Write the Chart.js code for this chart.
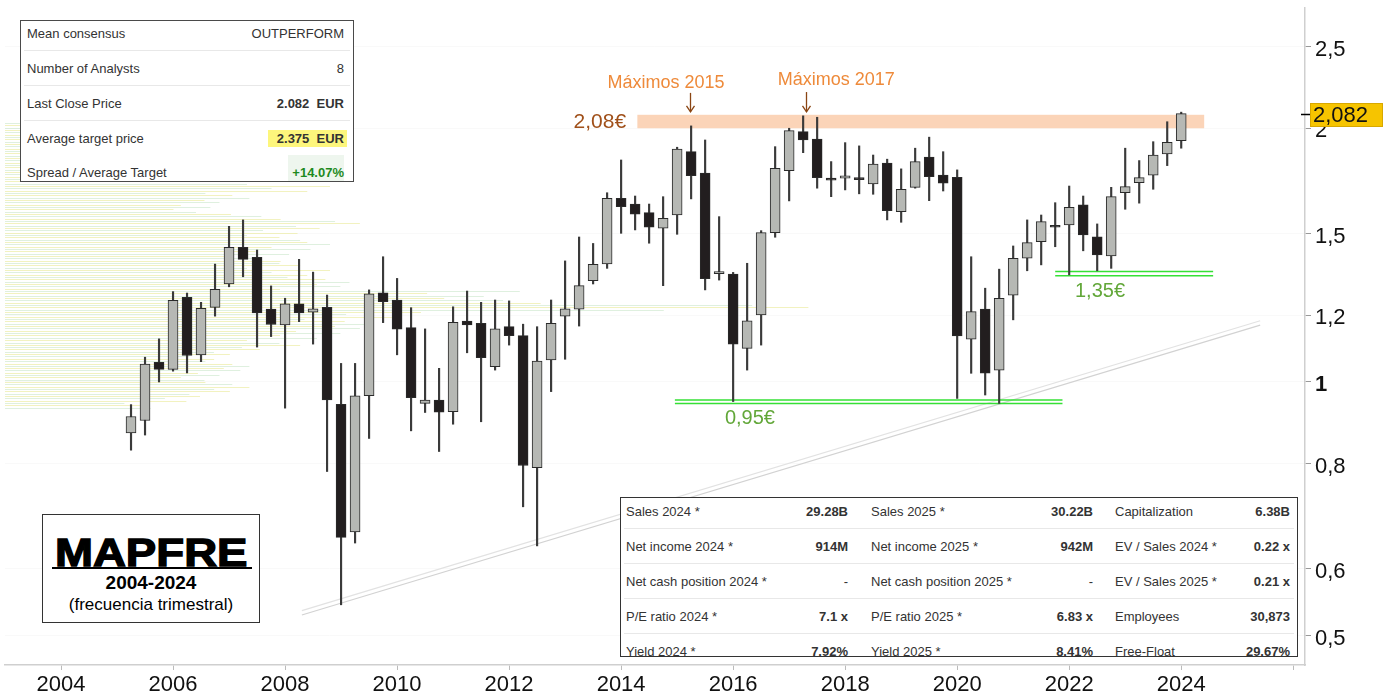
<!DOCTYPE html>
<html>
<head>
  <meta charset="utf-8">
  <title>MAPFRE 2004-2024 (frecuencia trimestral)</title>
  <script src="https://cdn.jsdelivr.net/npm/chart.js"></script>
  <style>
    body { margin: 0; background: #fff; font-family: "Liberation Sans", Arial, sans-serif; }
    .wrap { position: relative; width: 1389px; height: 696px; }
    .box { position: absolute; background: #fff; overflow: hidden; color: #333; font-size: 13px; }
    .row { position: absolute; left: 0; right: 0; height: 35px; line-height: 35px; white-space: nowrap; }
    .row span { position: absolute; }
    .sep::after { content: ""; position: absolute; left: 3px; right: 3px; bottom: 0; border-bottom: 1px solid #e8e8e8; }
    .b { font-weight: bold; }
    /* consensus table */
    #consensus { left: 20px; top: 20px; width: 332px; height: 160px; border: 1px solid #4a4a4a; }
    #consensus .l { left: 6px; }
    #consensus .v { right: 9px; }
    #consensus .hl { background: #fdf67c; line-height: 17px; top: 9px; padding: 0 3px 0 9px; right: 6px; }
    #consensus .pos { color: #1e8a1e; background: #eef6ee; padding: 0 0 0 4px; }
    /* financials table */
    #fin { left: 620px; top: 497px; width: 676px; height: 158px; border: 1px solid #333; }
    /* title box */
    #title { left: 42px; top: 514px; width: 216px; height: 107px; border: 1px solid #333; color: #000; }
    #title div { position: absolute; left: 0; right: 0; text-align: center; white-space: nowrap; }
  </style>
</head>
<body>
<div class="wrap">
  <canvas id="c"></canvas>

  <div class="box" id="consensus">
    <div class="row sep" style="top:-5px"><span class="l">Mean consensus</span><span class="v">OUTPERFORM</span></div>
    <div class="row sep" style="top:30px"><span class="l">Number of Analysts</span><span class="v">8</span></div>
    <div class="row sep" style="top:65px"><span class="l">Last Close Price</span><span class="v b">2.082&nbsp; EUR</span></div>
    <div class="row" style="top:100px"><span class="l">Average target price</span><span class="v b hl">2.375&nbsp; EUR</span></div>
    <div class="row" style="top:134px"><span class="l">Spread / Average Target</span><span class="v b pos">+14.07%</span></div>
  </div>

  <div class="box" id="fin">
    <div class="row sep" style="top:-4px">
      <span style="left:5px">Sales 2024 *</span><span class="b" style="right:449px">29.28B</span>
      <span style="left:250px">Sales 2025 *</span><span class="b" style="right:204px">30.22B</span>
      <span style="left:494px">Capitalization</span><span class="b" style="right:7px">6.38B</span>
    </div>
    <div class="row sep" style="top:31px">
      <span style="left:5px">Net income 2024 *</span><span class="b" style="right:449px">914M</span>
      <span style="left:250px">Net income 2025 *</span><span class="b" style="right:204px">942M</span>
      <span style="left:494px">EV / Sales 2024 *</span><span class="b" style="right:7px">0.22 x</span>
    </div>
    <div class="row sep" style="top:66px">
      <span style="left:5px">Net cash position 2024 *</span><span style="right:449px">-</span>
      <span style="left:250px">Net cash position 2025 *</span><span style="right:204px">-</span>
      <span style="left:494px">EV / Sales 2025 *</span><span class="b" style="right:7px">0.21 x</span>
    </div>
    <div class="row sep" style="top:101px">
      <span style="left:5px">P/E ratio 2024 *</span><span class="b" style="right:449px">7.1 x</span>
      <span style="left:250px">P/E ratio 2025 *</span><span class="b" style="right:204px">6.83 x</span>
      <span style="left:494px">Employees</span><span class="b" style="right:7px">30,873</span>
    </div>
    <div class="row" style="top:136px">
      <span style="left:5px">Yield 2024 *</span><span class="b" style="right:449px">7.92%</span>
      <span style="left:250px">Yield 2025 *</span><span class="b" style="right:204px">8.41%</span>
      <span style="left:494px">Free-Float</span><span class="b" style="right:7px">29.67%</span>
    </div>
  </div>

  <div class="box" id="title">
    <div style="top:19px;font-size:38px;line-height:38px;font-weight:bold;"><span style="display:inline-block;transform:scaleX(1.2);-webkit-text-stroke:1.3px #000;">MAPFRE</span></div>
    <div style="top:52px;left:9px;right:7px;height:2px;background:#000;"></div>
    <div style="top:58px;font-size:19px;line-height:19px;font-weight:bold;">2004-2024</div>
    <div style="top:81px;font-size:17px;line-height:17px;">(frecuencia trimestral)</div>
  </div>
</div>

<script>
  // quarterly candles, first one is 2005 Q2
  const firstYear = 2005, firstQuarter = 2;
  const opens  = [0.87,0.90,1.055,1.035,1.26,1.077,1.226,1.307,1.445,1.406,
                  1.22,1.169,1.238,1.21,1.226,0.941,0.664,0.963,1.276,1.251,
                  1.16,0.943,0.952,0.922,1.181,1.174,1.043,1.163,1.135,0.791,
                  1.062,1.197,1.22,1.319,1.381,1.652,1.626,1.588,1.522,1.578,
                  1.876,1.769,1.344,1.343,1.096,1.201,1.504,1.781,1.982,1.942,
                  1.745,1.745,1.748,1.718,1.818,1.593,1.702,1.848,1.76,1.749,
                  1.124,1.22,1.033,1.268,1.402,1.467,1.532,1.536,1.622,1.487,
                  1.411,1.677,1.724,1.759,1.864,1.934];
  const highs  = [0.94,1.07,1.125,1.28,1.275,1.243,1.38,1.53,1.557,1.434,
                  1.30,1.257,1.398,1.35,1.268,1.052,1.052,1.286,1.408,1.327,
                  1.225,1.156,1.038,1.228,1.282,1.243,1.251,1.248,1.171,1.163,
                  1.251,1.392,1.486,1.46,1.677,1.834,1.662,1.626,1.659,1.899,
                  2.013,1.937,1.571,1.349,1.383,1.512,1.902,2.0,2.069,2.061,
                  1.826,1.923,1.906,1.859,1.838,1.79,1.894,1.952,1.876,1.785,
                  1.408,1.292,1.361,1.45,1.557,1.578,1.632,1.708,1.662,1.54,
                  1.702,1.894,1.831,1.928,2.036,2.09];
  const lows   = [0.83,0.865,1.0,1.03,1.025,1.057,1.197,1.297,1.333,1.10,
                  1.132,0.931,1.179,1.109,0.783,0.544,0.644,0.857,1.176,1.077,
                  0.875,0.92,0.827,0.891,1.083,0.897,1.033,1.106,0.711,0.639,
                  0.974,1.064,1.165,1.307,1.364,1.501,1.515,1.461,1.301,1.497,
                  1.649,1.286,1.321,0.948,1.033,1.106,1.485,1.64,1.871,1.698,
                  1.659,1.69,1.672,1.67,1.557,1.547,1.698,1.641,1.685,0.956,
                  1.024,0.965,0.943,1.185,1.355,1.377,1.447,1.34,1.431,1.355,
                  1.364,1.603,1.63,1.693,1.806,1.894];
  const closes = [0.91,1.05,1.035,1.25,1.075,1.223,1.288,1.445,1.398,1.208,
                  1.17,1.238,1.208,1.221,0.952,0.654,0.963,1.272,1.245,1.155,
                  0.958,0.952,0.921,1.177,1.169,1.069,1.156,1.135,0.796,1.059,
                  1.174,1.221,1.301,1.379,1.652,1.614,1.582,1.526,1.564,1.889,
                  1.757,1.326,1.352,1.109,1.182,1.504,1.793,1.987,1.937,1.748,
                  1.735,1.756,1.738,1.813,1.597,1.693,1.826,1.752,1.721,1.134,
                  1.212,1.024,1.257,1.402,1.463,1.55,1.526,1.612,1.494,1.415,
                  1.659,1.705,1.748,1.859,1.925,2.082];
  const lastClose = 2.082;

  // axes
  const yTicks = [0.5, 0.6, 0.8, 1, 1.2, 1.5, 2, 2.5];
  const xTickYears = [2004, 2006, 2008, 2010, 2012, 2014, 2016, 2018, 2020, 2022, 2024, 2026];

  // volume-by-price profile on the left (price level, relative volume 0-100)
  const profilePrices = [2.013,1.974,1.937,1.900,1.864,1.829,1.794,1.760,1.727,1.694,
                         1.662,1.631,1.600,1.570,1.540,1.511,1.482,1.454,1.426,1.399,
                         1.373,1.347,1.321,1.296,1.272,1.248,1.224,1.201,1.178,1.156,
                         1.134,1.112,1.091,1.071,1.050,1.031,1.011,0.992,0.973,0.955,0.937];
  const profileVolume = [11.2,13.5,15.0,16.5,15.0,18.1,19.6,21.2,22.7,25.0,
                         18.8,16.5,15.8,21.2,27.3,24.2,22.7,25.0,23.5,21.2,
                         22.7,25.0,26.5,25.8,39.6,41.2,61.8,32.0,28.1,27.3,
                         25.8,22.7,19.6,17.3,18.8,18.1,16.5,18.8,17.3,15.0,11.2];

  // resistance band (máximos 2015/2017) and supports
  const resistBand = { from: 2014.29, to: 2024.41, low: 2.0, high: 2.075 };
  const supports = [
    { from: 2014.96, to: 2021.88, prices: [0.952, 0.943] },
    { from: 2021.75, to: 2024.57, prices: [1.352, 1.337] }
  ];
  const trendLine = { x0: 2008.30, p0: 0.529, x1: 2025.41, p1: 1.168 };

  // annotations
  const arrows = [
    { year: 2015.23, from: 2.203, to: 2.092 },
    { year: 2017.30, from: 2.208, to: 2.092 }
  ];
  const labels = [
    { text: 'Máximos 2015', year: 2014.80, price: 2.264, color: '#ee8a3a', size: 18, align: 'center' },
    { text: 'Máximos 2017', year: 2017.84, price: 2.282, color: '#ee8a3a', size: 18, align: 'center' },
    { text: '2,08€', year: 2014.09, price: 2.034, color: '#a0501a', size: 21, align: 'right' },
    { text: '0,95€', year: 2016.30, price: 0.906, color: '#62a739', size: 20, align: 'center' },
    { text: '1,35€', year: 2022.55, price: 1.279, color: '#62a739', size: 20, align: 'center' }
  ];

  const quarterX = opens.map((_, i) => firstYear + (firstQuarter - 1 + i) / 4);
  const bodyColors = opens.map((o, i) => closes[i] >= o ? '#b6b8b4' : '#221e1f');

  const overlay = {
    id: 'overlay',
    beforeDatasetsDraw(chart) {
      const { ctx, chartArea: a, scales: { x, y, xv } } = chart;
      ctx.save();
      ctx.beginPath();
      ctx.rect(a.left, a.top, a.width, a.height);
      ctx.clip();

      // volume profile: each level drawn as thin stripes
      const stripeLen = [1, 0.82, 0.93];
      profilePrices.forEach((p, i) => {
        const py = y.getPixelForValue(p);
        const x0 = xv.getPixelForValue(0);
        const x1 = xv.getPixelForValue(profileVolume[i]);
        for (let k = 0; k < 3; k++) {
          const yy = Math.round(py - 3 + k * 2.4) + 0.5;
          ctx.strokeStyle = (i + k) % 2 ? 'rgba(232,232,140,0.55)' : 'rgba(185,222,185,0.45)';
          ctx.lineWidth = 1;
          ctx.beginPath();
          ctx.moveTo(x0, yy);
          ctx.lineTo(x0 + (x1 - x0) * stripeLen[(i + k) % 3], yy);
          ctx.stroke();
        }
      });

      // trend line (double)
      [1, 1.012].forEach((f, j) => {
        ctx.strokeStyle = j ? '#e2e2e2' : '#d2d2d2';
        ctx.lineWidth = 1.2;
        ctx.beginPath();
        ctx.moveTo(x.getPixelForValue(trendLine.x0), y.getPixelForValue(trendLine.p0 * f));
        ctx.lineTo(x.getPixelForValue(trendLine.x1), y.getPixelForValue(trendLine.p1 * f));
        ctx.stroke();
      });

      // resistance band
      ctx.fillStyle = '#fbd4b8';
      const bx0 = x.getPixelForValue(resistBand.from), bx1 = x.getPixelForValue(resistBand.to);
      const by0 = y.getPixelForValue(resistBand.high), by1 = y.getPixelForValue(resistBand.low);
      ctx.fillRect(bx0, by0, bx1 - bx0, by1 - by0);

      // supports
      ctx.strokeStyle = '#35e035';
      ctx.lineWidth = 1.5;
      supports.forEach(s => {
        s.prices.forEach(p => {
          const py = y.getPixelForValue(p);
          ctx.beginPath();
          ctx.moveTo(x.getPixelForValue(s.from), py);
          ctx.lineTo(x.getPixelForValue(s.to), py);
          ctx.stroke();
        });
      });
      ctx.restore();
    },
    afterDatasetsDraw(chart) {
      const { ctx, scales: { x, y } } = chart;
      ctx.save();
      // arrows
      ctx.strokeStyle = '#8a4513';
      ctx.lineWidth = 1.3;
      arrows.forEach(ar => {
        const px = Math.round(x.getPixelForValue(ar.year)) + 0.5;
        const y0 = y.getPixelForValue(ar.from), y1 = y.getPixelForValue(ar.to);
        ctx.beginPath();
        ctx.moveTo(px, y0);
        ctx.lineTo(px, y1);
        ctx.stroke();
        ctx.beginPath();
        ctx.moveTo(px - 4, y1 - 6);
        ctx.lineTo(px, y1);
        ctx.lineTo(px + 4, y1 - 6);
        ctx.stroke();
      });
      // labels
      ctx.textBaseline = 'middle';
      labels.forEach(l => {
        ctx.font = l.size + 'px "Liberation Sans", Arial, sans-serif';
        ctx.fillStyle = l.color;
        ctx.textAlign = l.align;
        ctx.fillText(l.text, x.getPixelForValue(l.year), y.getPixelForValue(l.price));
      });
      ctx.restore();
    },
    afterDraw(chart) {
      const { ctx, chartArea: a, scales: { y } } = chart;
      const py = Math.round(y.getPixelForValue(lastClose));
      ctx.save();
      ctx.strokeStyle = '#000';
      ctx.lineWidth = 1.5;
      ctx.beginPath();
      ctx.moveTo(a.right - 4, py + 0.5);
      ctx.lineTo(a.right + 6, py + 0.5);
      ctx.stroke();
      ctx.fillStyle = '#f6c400';
      ctx.fillRect(a.right + 5, py - 11, 73, 24);
      ctx.strokeStyle = '#d8a800';
      ctx.lineWidth = 1;
      ctx.strokeRect(a.right + 5.5, py - 10.5, 72, 23);
      ctx.fillStyle = '#111';
      ctx.font = '22px "Liberation Sans", Arial, sans-serif';
      ctx.textAlign = 'left';
      ctx.textBaseline = 'middle';
      ctx.fillText(String(lastClose).replace('.', ','), a.right + 8, py + 2);
      ctx.restore();
    }
  };

  const canvas = document.getElementById('c');
  canvas.parentNode.style.width = '1389px';
  canvas.parentNode.style.height = '696px';

  new Chart(canvas, {
    type: 'bar',
    data: {
      datasets: [
        {
          label: 'body',
          data: quarterX.map((q, i) => ({ x: q, y: [opens[i], closes[i]] })),
          backgroundColor: bodyColors,
          borderColor: '#2a2a2a',
          borderWidth: 1,
          borderSkipped: false,
          barThickness: 10,
          minBarLength: 2,
          grouped: false,
          order: 0
        },
        {
          label: 'wick',
          data: quarterX.map((q, i) => ({ x: q, y: [lows[i], highs[i]] })),
          backgroundColor: '#3a3a3a',
          borderWidth: 0,
          barThickness: 1.5,
          grouped: false,
          order: 1
        }
      ]
    },
    options: {
      responsive: true,
      maintainAspectRatio: false,
      animation: false,
      layout: { padding: { left: 5, top: 8, right: 0, bottom: 0 } },
      plugins: { legend: { display: false }, tooltip: { enabled: false } },
      scales: {
        x: {
          type: 'linear',
          offset: false,
          min: 2003,
          max: 2026.21,
          afterBuildTicks: s => { s.ticks = xTickYears.map(v => ({ value: v })); },
          afterFit: s => { s.height = 31; },
          ticks: {
            autoSkip: false,
            maxRotation: 0,
            padding: 2,
            color: '#111',
            font: { size: 22, family: '"Liberation Sans", Arial, sans-serif' },
            callback: v => v < 2025 ? String(v) : ''
          },
          grid: { offset: false, drawOnChartArea: false, tickLength: 5, color: '#bbb' },
          border: { color: '#cfcfcf', width: 1.5 }
        },
        xv: {
          type: 'linear',
          position: 'bottom',
          offset: false,
          min: 0,
          max: 100,
          afterFit: s => { s.height = 0; },
          ticks: { display: false },
          grid: { display: false, drawTicks: false },
          border: { display: false }
        },
        y: {
          type: 'logarithmic',
          position: 'right',
          min: 0.4615,
          max: 2.778,
          afterBuildTicks: s => { s.ticks = yTicks.map(v => ({ value: v })); },
          afterFit: s => { s.width = 84; s.paddingTop = 0; s.paddingBottom = 0; },
          ticks: {
            autoSkip: false,
            padding: 4,
            labelOffset: 3,
            color: '#111',
            font: ctx => ({ size: 22, family: '"Liberation Sans", Arial, sans-serif', weight: ctx.tick && ctx.tick.value === 1 ? 'bold' : 'normal' }),
            callback: v => String(v).replace('.', ',')
          },
          grid: { color: 'rgba(0,0,0,0.025)', tickColor: '#999', tickLength: 6 },
          border: { color: '#cfcfcf', width: 1.5 }
        }
      }
    },
    plugins: [overlay]
  });
</script>
</body>
</html>
